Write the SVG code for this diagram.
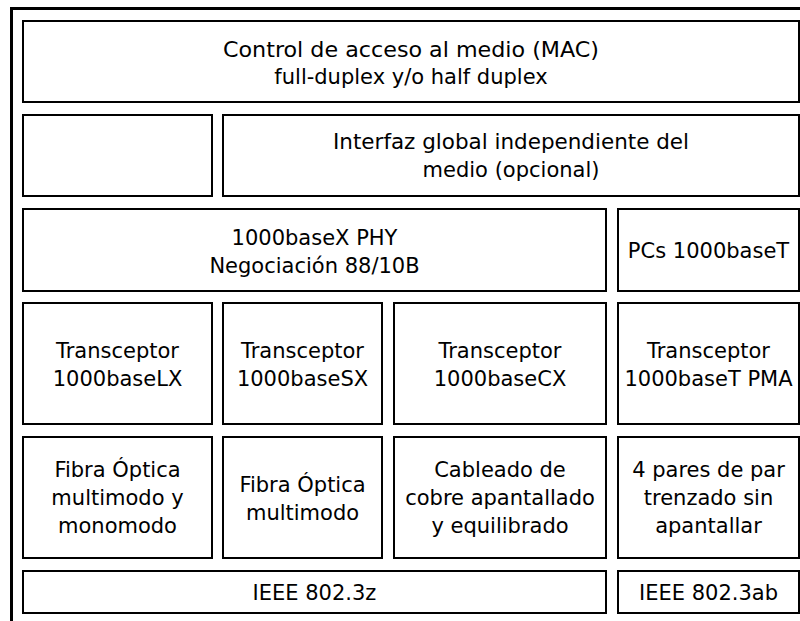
<svg xmlns="http://www.w3.org/2000/svg" width="800" height="621" viewBox="0 0 800 621">
<style>
.box{fill:#fff;stroke:#000;stroke-width:2}
.frame{fill:none;stroke:#000;stroke-width:3}
text{font-family:"DejaVu Sans","Liberation Sans",sans-serif;font-size:21px;fill:#000;text-anchor:middle}
</style>
<rect x="0" y="0" width="800" height="621" fill="#fff"/>
<g id="frame"><path class="frame" d="M11.5,621 V8.5 H800"/></g>
<g id="mac"><rect class="box" x="23" y="21" width="776" height="81"/>
<text x="411" y="57" textLength="376" lengthAdjust="spacingAndGlyphs">Control de acceso al medio (MAC)</text>
<text x="411" y="84">full-duplex y/o half duplex</text></g>
<g id="blank"><rect class="box" x="23" y="115" width="189" height="81"/></g>
<g id="gmii"><rect class="box" x="223" y="115" width="576" height="81"/>
<text x="511" y="149" textLength="356" lengthAdjust="spacingAndGlyphs">Interfaz global independiente del</text>
<text x="511" y="177">medio (opcional)</text></g>
<g id="phyx"><rect class="box" x="23" y="209" width="583" height="82"/>
<text x="314.5" y="245">1000baseX PHY</text>
<text x="314.5" y="273">Negociación 88/10B</text></g>
<g id="pcs"><rect class="box" x="618" y="209" width="181" height="82"/>
<text x="708.5" y="258">PCs 1000baseT</text></g>
<g id="lx"><rect class="box" x="23" y="303" width="189" height="121"/>
<text x="117.5" y="358">Transceptor</text><text x="117.5" y="386">1000baseLX</text></g>
<g id="sx"><rect class="box" x="223" y="303" width="159" height="121"/>
<text x="302.5" y="358">Transceptor</text><text x="302.5" y="386">1000baseSX</text></g>
<g id="cx"><rect class="box" x="394" y="303" width="212" height="121"/>
<text x="500" y="358">Transceptor</text><text x="500" y="386">1000baseCX</text></g>
<g id="tpma"><rect class="box" x="618" y="303" width="181" height="121"/>
<text x="708.5" y="358">Transceptor</text><text x="708.5" y="386">1000baseT PMA</text></g>
<g id="fibra-mm-sm"><rect class="box" x="23" y="437" width="189" height="121"/>
<text x="117.5" y="477">Fibra Óptica</text><text x="117.5" y="505">multimodo y</text><text x="117.5" y="533">monomodo</text></g>
<g id="fibra-mm"><rect class="box" x="223" y="437" width="159" height="121"/>
<text x="302.5" y="492">Fibra Óptica</text><text x="302.5" y="520">multimodo</text></g>
<g id="cobre"><rect class="box" x="394" y="437" width="212" height="121"/>
<text x="500" y="477">Cableado de</text><text x="500" y="505">cobre apantallado</text><text x="500" y="533">y equilibrado</text></g>
<g id="utp"><rect class="box" x="618" y="437" width="181" height="121"/>
<text x="708.5" y="477">4 pares de par</text><text x="708.5" y="505">trenzado sin</text><text x="708.5" y="533">apantallar</text></g>
<g id="ieee-z"><rect class="box" x="23" y="571" width="583" height="42"/>
<text x="314.5" y="600">IEEE 802.3z</text></g>
<g id="ieee-ab"><rect class="box" x="618" y="571" width="181" height="42"/>
<text x="708.5" y="600">IEEE 802.3ab</text></g>
<g id="connectors"/>
</svg>
